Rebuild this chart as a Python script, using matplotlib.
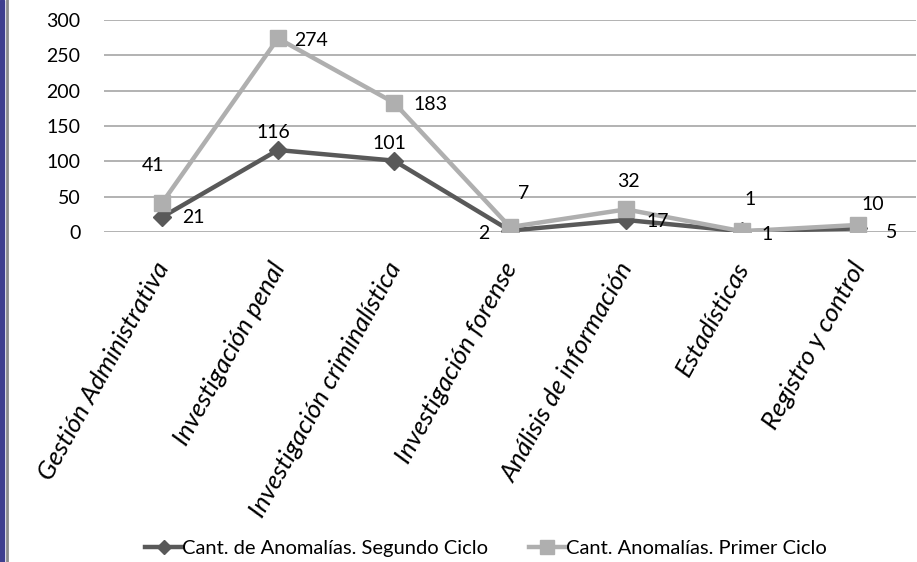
import matplotlib
matplotlib.use("Agg")
import matplotlib.pyplot as plt
from matplotlib.patches import Rectangle
from matplotlib.lines import Line2D

categories = ["Gestión Administrativa", "Investigación penal", "Investigación criminalística",
              "Investigación forense", "Análisis de información", "Estadísticas", "Registro y control"]
segundo = [21, 116, 101, 2, 17, 1, 5]
primer = [41, 274, 183, 7, 32, 1, 10]
yticks = [0, 50, 100, 150, 200, 250, 300]
series_names = ["Cant. de Anomalías. Segundo Ciclo", "Cant. Anomalías. Primer Ciclo"]

# label offsets in pixels (dx, dy)
seg_off = [(31, 0), (-5, 18), (-5, 17), (-26, -3), (32, -2), (25, -3), (34, -4)]
pri_off = [(-9, 38), (33, -2), (36, -2), (14, 34), (2, 28), (8, 32), (15, 20)]

FONT = ["Lato", "DejaVu Sans"]
plt.rcParams["font.family"] = FONT

dark = "#595959"
light = "#AFAFAF"

fig = plt.figure(figsize=(9.17, 5.62), dpi=100)
ax = fig.add_axes([104 / 917, 330 / 562, 812 / 917, 212 / 562])

x = list(range(len(categories)))
ax.plot(x, segundo, color=dark, lw=3.2, marker="D", markersize=9, zorder=3,
        label=series_names[0])
ax.plot(x, primer, color=light, lw=3.2, marker="s", markersize=12, zorder=4,
        label=series_names[1])

for i, v in enumerate(segundo):
    ax.annotate(str(v), (i, v), xytext=seg_off[i], textcoords="offset pixels",
                ha="center", va="center", fontsize=14, color="black", zorder=5)
for i, v in enumerate(primer):
    ax.annotate(str(v), (i, v), xytext=pri_off[i], textcoords="offset pixels",
                ha="center", va="center", fontsize=14, color="black", zorder=5)

ax.set_xlim(-0.5, len(categories) - 0.5)
ax.set_ylim(0, 300)
ax.set_yticks(yticks)
ax.set_yticklabels([str(t) for t in yticks], fontsize=14)
ax.yaxis.grid(True, color="#A6A6A6", lw=1.2)
ax.set_axisbelow(True)
for s in ["top", "right", "left", "bottom"]:
    ax.spines[s].set_visible(False)
ax.tick_params(axis="y", length=0, pad=17)
ax.tick_params(axis="x", length=0, pad=22)
ax.set_xticks(x)
ax.set_xticklabels(categories, rotation=61, ha="right", va="center_baseline",
                   rotation_mode="anchor", fontsize=18.5, style="italic")

handles = [Line2D([], [], color=dark, lw=3.2, marker="D", markersize=7),
           Line2D([], [], color=light, lw=3.2, marker="s", markersize=10)]
fig.legend(handles, series_names, loc="center", bbox_to_anchor=(0.53, 1 - 548 / 562),
           ncol=2, frameon=False, fontsize=14.5, handlelength=1.85, handletextpad=0.0,
           columnspacing=2.0)

# left border decoration
fig.patches.append(Rectangle((0, 0), 4 / 917, 1, transform=fig.transFigure,
                             color="#3F3F8F", zorder=0))
fig.lines.append(Line2D([7 / 917, 7 / 917], [0, 1], transform=fig.transFigure,
                        color="#8C8C8C", lw=2))

fig.savefig("out.png", dpi=100)
